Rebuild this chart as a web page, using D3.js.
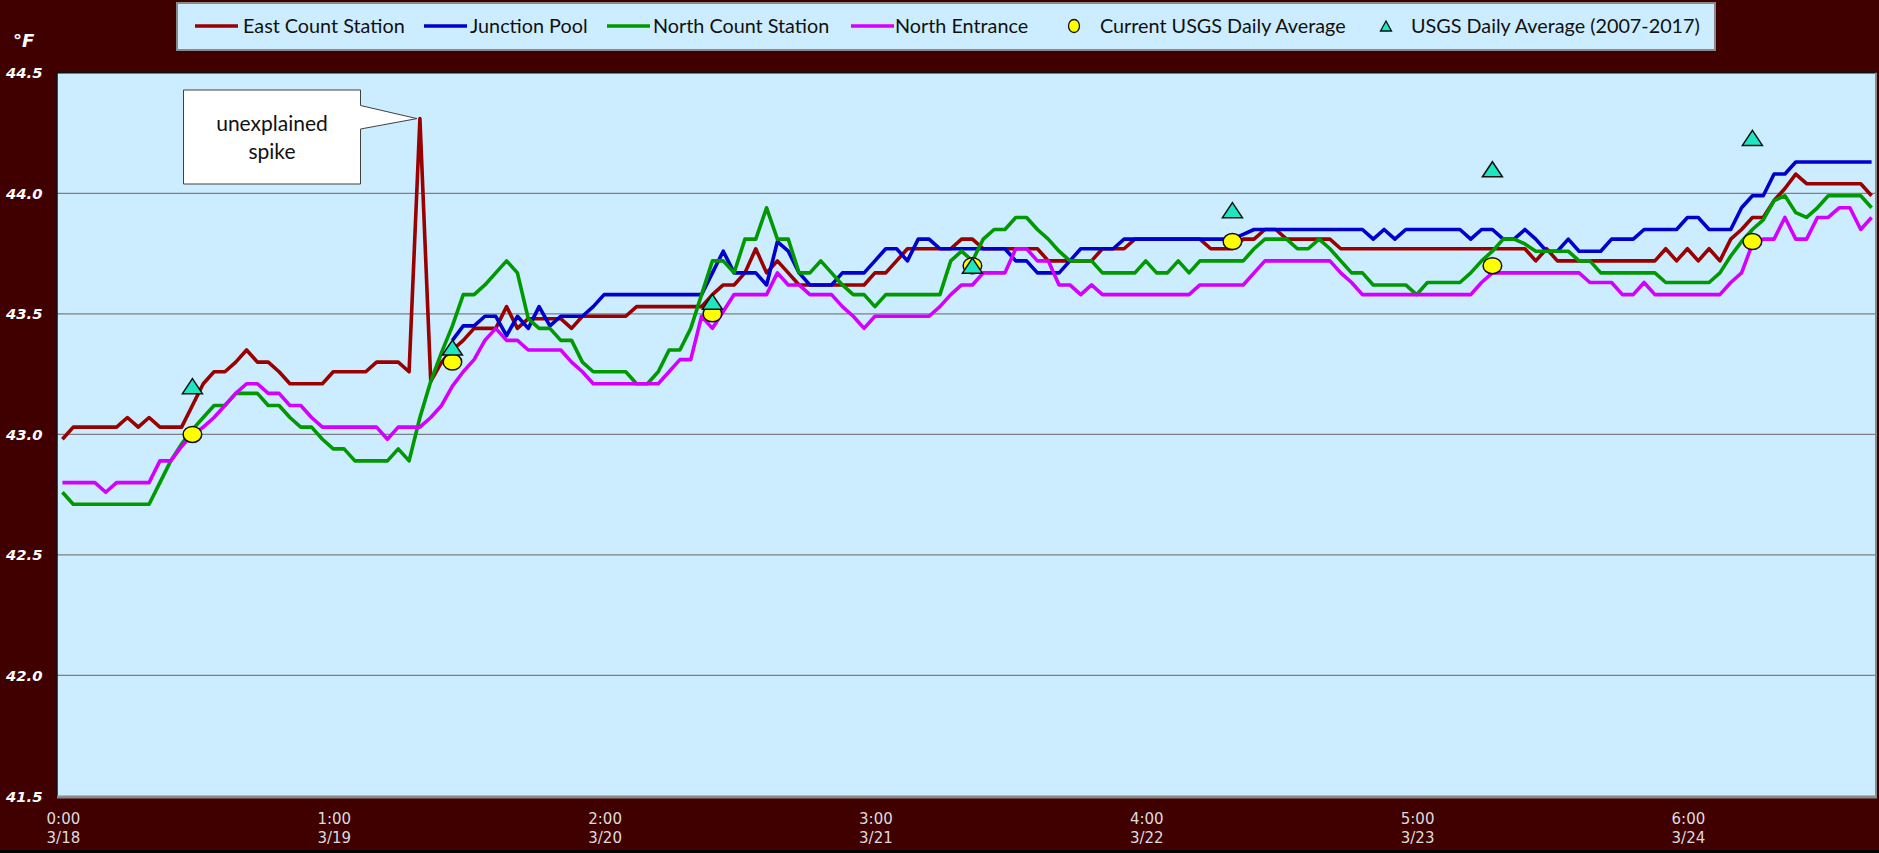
<!DOCTYPE html>
<html><head><meta charset="utf-8">
<script src="https://cdn.jsdelivr.net/npm/d3@7"></script>
<style>html,body{margin:0;padding:0;background:#400000;}svg{display:block;}</style>
</head><body>
<svg id="chart" width="1879" height="853"></svg>
<script>
// ---------------- DATA ----------------
// hourly readings, 3/18 0:00 (index 0) through 3/24 23:00 (index 167)
const eastCount = [
 42.98,43.03,43.03,43.03,43.03,43.03,43.07,43.03,43.07,43.03,43.03,43.03,
 43.12,43.21,43.26,43.26,43.30,43.35,43.30,43.30,43.26,43.21,43.21,43.21,
 43.21,43.26,43.26,43.26,43.26,43.30,43.30,43.30,43.26,44.31,43.22,43.30,
 43.35,43.39,43.44,43.44,43.44,43.53,43.44,43.48,43.48,43.48,43.48,43.44,
 43.49,43.49,43.49,43.49,43.49,43.53,43.53,43.53,43.53,43.53,43.53,43.53,
 43.58,43.62,43.62,43.67,43.77,43.67,43.72,43.67,43.62,43.62,43.62,43.62,
 43.62,43.62,43.62,43.67,43.67,43.72,43.77,43.77,43.77,43.77,43.77,43.81,
 43.81,43.77,43.77,43.77,43.77,43.77,43.77,43.72,43.72,43.72,43.72,43.72,
 43.77,43.77,43.77,43.81,43.81,43.81,43.81,43.81,43.81,43.81,43.77,43.77,
 43.77,43.81,43.81,43.85,43.85,43.81,43.81,43.81,43.81,43.81,43.77,43.77,
 43.77,43.77,43.77,43.77,43.77,43.77,43.77,43.77,43.77,43.77,43.77,43.77,
 43.77,43.77,43.77,43.77,43.72,43.77,43.72,43.72,43.72,43.72,43.72,43.72,
 43.72,43.72,43.72,43.72,43.77,43.72,43.77,43.72,43.77,43.72,43.81,43.85,
 43.90,43.90,43.97,44.02,44.08,44.04,44.04,44.04,44.04,44.04,44.04,43.99
];
const junctionPool = [
 null,null,null,null,null,null,null,null,null,null,null,null,
 null,null,null,null,null,null,null,null,null,null,null,null,
 null,null,null,null,null,null,null,null,null,null,null,null,
 43.39,43.45,43.45,43.49,43.49,43.41,43.49,43.44,43.53,43.45,43.49,43.49,
 43.49,43.53,43.58,43.58,43.58,43.58,43.58,43.58,43.58,43.58,43.58,43.58,
 43.67,43.76,43.67,43.67,43.67,43.62,43.80,43.76,43.67,43.62,43.62,43.62,
 43.67,43.67,43.67,43.72,43.77,43.77,43.72,43.81,43.81,43.77,43.77,43.77,
 43.77,43.77,43.77,43.77,43.72,43.72,43.67,43.67,43.67,43.72,43.77,43.77,
 43.77,43.77,43.81,43.81,43.81,43.81,43.81,43.81,43.81,43.81,43.81,43.81,
 43.81,43.83,43.85,43.85,43.85,43.85,43.85,43.85,43.85,43.85,43.85,43.85,
 43.85,43.81,43.85,43.81,43.85,43.85,43.85,43.85,43.85,43.85,43.81,43.85,
 43.85,43.81,43.81,43.85,43.81,43.76,43.76,43.81,43.76,43.76,43.76,43.81,
 43.81,43.81,43.85,43.85,43.85,43.85,43.90,43.90,43.85,43.85,43.85,43.94,
 43.99,43.99,44.08,44.08,44.13,44.13,44.13,44.13,44.13,44.13,44.13,44.13
];
const northCount = [
 42.76,42.71,42.71,42.71,42.71,42.71,42.71,42.71,42.71,42.80,42.89,42.96,
 43.02,43.07,43.12,43.12,43.17,43.17,43.17,43.12,43.12,43.07,43.03,43.03,
 42.98,42.94,42.94,42.89,42.89,42.89,42.89,42.94,42.89,43.07,43.22,43.34,
 43.45,43.58,43.58,43.62,43.67,43.72,43.67,43.48,43.44,43.44,43.39,43.39,
 43.30,43.26,43.26,43.26,43.26,43.21,43.21,43.26,43.35,43.35,43.44,43.58,
 43.72,43.72,43.67,43.81,43.81,43.94,43.81,43.81,43.67,43.67,43.72,43.67,
 43.62,43.58,43.58,43.53,43.58,43.58,43.58,43.58,43.58,43.58,43.72,43.76,
 43.72,43.81,43.85,43.85,43.90,43.90,43.85,43.81,43.76,43.72,43.72,43.72,
 43.67,43.67,43.67,43.67,43.72,43.67,43.67,43.72,43.67,43.72,43.72,43.72,
 43.72,43.72,43.77,43.81,43.81,43.81,43.77,43.77,43.81,43.77,43.72,43.67,
 43.67,43.62,43.62,43.62,43.62,43.58,43.63,43.63,43.63,43.63,43.67,43.72,
 43.76,43.81,43.81,43.79,43.76,43.76,43.76,43.76,43.72,43.72,43.67,43.67,
 43.67,43.67,43.67,43.67,43.63,43.63,43.63,43.63,43.63,43.67,43.74,43.80,
 43.85,43.89,43.97,43.99,43.92,43.90,43.94,43.99,43.99,43.99,43.99,43.94
];
const northEntrance = [
 42.80,42.80,42.80,42.80,42.76,42.80,42.80,42.80,42.80,42.89,42.89,42.95,
 43.00,43.03,43.07,43.12,43.17,43.21,43.21,43.17,43.17,43.12,43.12,43.07,
 43.03,43.03,43.03,43.03,43.03,43.03,42.98,43.03,43.03,43.03,43.07,43.12,
 43.20,43.26,43.31,43.39,43.44,43.39,43.39,43.35,43.35,43.35,43.35,43.30,
 43.26,43.21,43.21,43.21,43.21,43.21,43.21,43.21,43.26,43.31,43.31,43.49,
 43.44,43.51,43.58,43.58,43.58,43.58,43.67,43.62,43.62,43.58,43.58,43.58,
 43.53,43.49,43.44,43.49,43.49,43.49,43.49,43.49,43.49,43.53,43.58,43.62,
 43.62,43.67,43.67,43.67,43.77,43.77,43.72,43.72,43.62,43.62,43.58,43.62,
 43.58,43.58,43.58,43.58,43.58,43.58,43.58,43.58,43.58,43.62,43.62,43.62,
 43.62,43.62,43.67,43.72,43.72,43.72,43.72,43.72,43.72,43.72,43.67,43.63,
 43.58,43.58,43.58,43.58,43.58,43.58,43.58,43.58,43.58,43.58,43.58,43.63,
 43.67,43.67,43.67,43.67,43.67,43.67,43.67,43.67,43.67,43.63,43.63,43.63,
 43.58,43.58,43.63,43.58,43.58,43.58,43.58,43.58,43.58,43.58,43.63,43.67,
 43.79,43.81,43.81,43.90,43.81,43.81,43.90,43.90,43.94,43.94,43.85,43.90
];
// daily markers at noon of each day (hour index)
const markerHours = [12, 36, 60, 84, 108, 132, 156];
const currentUSGS = [43.00, 43.30, 43.50, 43.70, 43.80, 43.70, 43.80];
const usgsAvg0717 = [43.20, 43.36, 43.55, 43.70, 43.93, 44.10, 44.23];

const yTicks = [41.5, 42.0, 42.5, 43.0, 43.5, 44.0, 44.5];
const xTickHours = [0, 25, 50, 75, 100, 125, 150];
const xTickTime = ["0:00", "1:00", "2:00", "3:00", "4:00", "5:00", "6:00"];
const xTickDate = ["3/18", "3/19", "3/20", "3/21", "3/22", "3/23", "3/24"];

const seriesNames = ["East Count Station", "Junction Pool", "North Count Station", "North Entrance"];
const seriesColors = ["#990000", "#0000CC", "#009900", "#D400FF"];
const markerNames = ["Current USGS Daily Average", "USGS Daily Average (2007-2017)"];
const spikeIndex = 33;

// ---------------- LAYOUT ----------------
const svg = d3.select("#chart");
const W = 1879, H = 853;
const plot = {left: 57, right: 1877, top: 72.8, bottom: 796};

svg.append("rect").attr("width", W).attr("height", H).attr("fill", "#400000");
svg.append("rect").attr("x", 0).attr("y", H - 3).attr("width", W).attr("height", 3).attr("fill", "#000");

const x = d3.scaleLinear().domain([-0.5, 167.5]).range([plot.left, plot.right]);
const y = d3.scaleLinear().domain([41.5, 44.5]).range([plot.bottom, plot.top]);

// plot area
svg.append("rect").attr("x", plot.left).attr("y", plot.top)
  .attr("width", plot.right - plot.left).attr("height", plot.bottom - plot.top)
  .attr("fill", "#CCECFF");

// gridlines
svg.append("g").selectAll("line").data(yTicks.filter(v => v > 41.5 && v < 44.5)).join("line")
  .attr("x1", plot.left).attr("x2", plot.right)
  .attr("y1", d => y(d)).attr("y2", d => y(d))
  .attr("stroke", "#7f7f7f").attr("stroke-width", 1.3);

// borders
svg.append("line").attr("x1", plot.left).attr("x2", plot.right).attr("y1", plot.top).attr("y2", plot.top)
  .attr("stroke", "#111").attr("stroke-width", 1.5);
svg.append("line").attr("x1", plot.left).attr("x2", plot.left).attr("y1", plot.top).attr("y2", plot.bottom)
  .attr("stroke", "#111").attr("stroke-width", 1.5);
svg.append("line").attr("x1", plot.right - 1).attr("x2", plot.right - 1).attr("y1", plot.top).attr("y2", plot.bottom)
  .attr("stroke", "#8a8a8a").attr("stroke-width", 2);
svg.append("line").attr("x1", plot.left).attr("x2", plot.right).attr("y1", plot.bottom + 1).attr("y2", plot.bottom + 1)
  .attr("stroke", "#8a8a8a").attr("stroke-width", 3);

// y axis labels
svg.append("g").selectAll("text").data(yTicks).join("text")
  .attr("x", 6).attr("y", d => y(d) + 5.5)
  .attr("font-family", "DejaVu Sans").attr("font-weight", "bold").attr("font-style", "italic")
  .attr("font-size", 14.8).attr("fill", "#fff")
  .text(d => d.toFixed(1));
svg.append("text").attr("x", 13).attr("y", 47)
  .attr("font-family", "DejaVu Sans").attr("font-weight", "bold").attr("font-style", "italic")
  .attr("font-size", 18).attr("fill", "#fff").text("°F");

// x axis labels
const xl = svg.append("g").selectAll("g").data(xTickHours).join("g")
  .attr("transform", d => `translate(${x(d) + 1},0)`);
xl.append("text").attr("y", 823.5).attr("text-anchor", "middle")
  .attr("font-family", "DejaVu Sans").attr("font-size", 15).attr("fill", "#dcdcdc")
  .text((d, i) => xTickTime[i]);
xl.append("text").attr("y", 843).attr("text-anchor", "middle")
  .attr("font-family", "DejaVu Sans").attr("font-size", 15).attr("fill", "#dcdcdc")
  .text((d, i) => xTickDate[i]);

// lines
const allSeries = [eastCount, junctionPool, northCount, northEntrance];
const line = d3.line().defined(d => d != null).x((d, i) => x(i)).y(d => y(d));
svg.append("g").selectAll("path").data(allSeries).join("path")
  .attr("d", d => line(d))
  .attr("fill", "none")
  .attr("stroke", (d, i) => seriesColors[i])
  .attr("stroke-width", 3.6)
  .attr("stroke-linejoin", "round");

// markers
function triPath(cx, cy, w, h) {
  return `M${cx},${cy - h / 2}L${cx + w / 2},${cy + h / 2}L${cx - w / 2},${cy + h / 2}Z`;
}
svg.append("g").selectAll("ellipse").data(markerHours).join("ellipse")
  .attr("cx", d => x(d)).attr("cy", (d, i) => y(currentUSGS[i]))
  .attr("rx", 9.3).attr("ry", 8)
  .attr("fill", "#FFFF00").attr("stroke", "#111").attr("stroke-width", 1.5);
svg.append("g").selectAll("path").data(markerHours).join("path")
  .attr("d", (d, i) => triPath(x(d), y(usgsAvg0717[i]), 20, 15))
  .attr("fill", "#1EE6C0").attr("stroke", "#111").attr("stroke-width", 1.5)
  .attr("stroke-linejoin", "miter");

// callout annotation
const tipX = x(spikeIndex) - 3, tipY = y(eastCount[spikeIndex]);
const bx0 = 183.5, bx1 = 360.5, by0 = 90, by1 = 184;
svg.append("path")
  .attr("d", `M${bx0},${by0}H${bx1}V${by0 + 15.5}L${tipX},${tipY}L${bx1},${by0 + 39}V${by1}H${bx0}Z`)
  .attr("fill", "#fff").attr("stroke", "#404040").attr("stroke-width", 1);
const cx = (bx0 + bx1) / 2;
svg.append("text").attr("x", cx).attr("y", 131).attr("text-anchor", "middle")
  .attr("font-family", "Lato").attr("font-size", 21).attr("fill", "#111").text("unexplained");
svg.append("text").attr("x", cx).attr("y", 159).attr("text-anchor", "middle")
  .attr("font-family", "Lato").attr("font-size", 21).attr("fill", "#111").text("spike");

// legend
svg.append("rect").attr("x", 177).attr("y", 3).attr("width", 1538).attr("height", 47)
  .attr("fill", "#CCECFF").attr("stroke", "#8a8a8a").attr("stroke-width", 2);
const legLineX = [195, 424, 607, 851];
const legTextX = [243, 470, 653, 895];
const lg = svg.append("g");
seriesNames.forEach((n, i) => {
  lg.append("line").attr("x1", legLineX[i]).attr("x2", legLineX[i] + 43).attr("y1", 26).attr("y2", 26)
    .attr("stroke", seriesColors[i]).attr("stroke-width", 3.6);
  lg.append("text").attr("x", legTextX[i]).attr("y", 33)
    .attr("font-family", "Lato").attr("font-size", 19.8).attr("fill", "#111").text(n);
});
lg.append("ellipse").attr("cx", 1074).attr("cy", 26).attr("rx", 5.5).attr("ry", 6.5)
  .attr("fill", "#FFFF00").attr("stroke", "#111").attr("stroke-width", 1.3);
lg.append("text").attr("x", 1100).attr("y", 33)
  .attr("font-family", "Lato").attr("font-size", 19.8).attr("fill", "#111").text(markerNames[0]);
lg.append("path").attr("d", triPath(1386, 26, 11, 10))
  .attr("fill", "#1EE6C0").attr("stroke", "#111").attr("stroke-width", 1.3);
lg.append("text").attr("x", 1411).attr("y", 33)
  .attr("font-family", "Lato").attr("font-size", 19.8).attr("fill", "#111").text(markerNames[1]);
</script>
</body></html>
